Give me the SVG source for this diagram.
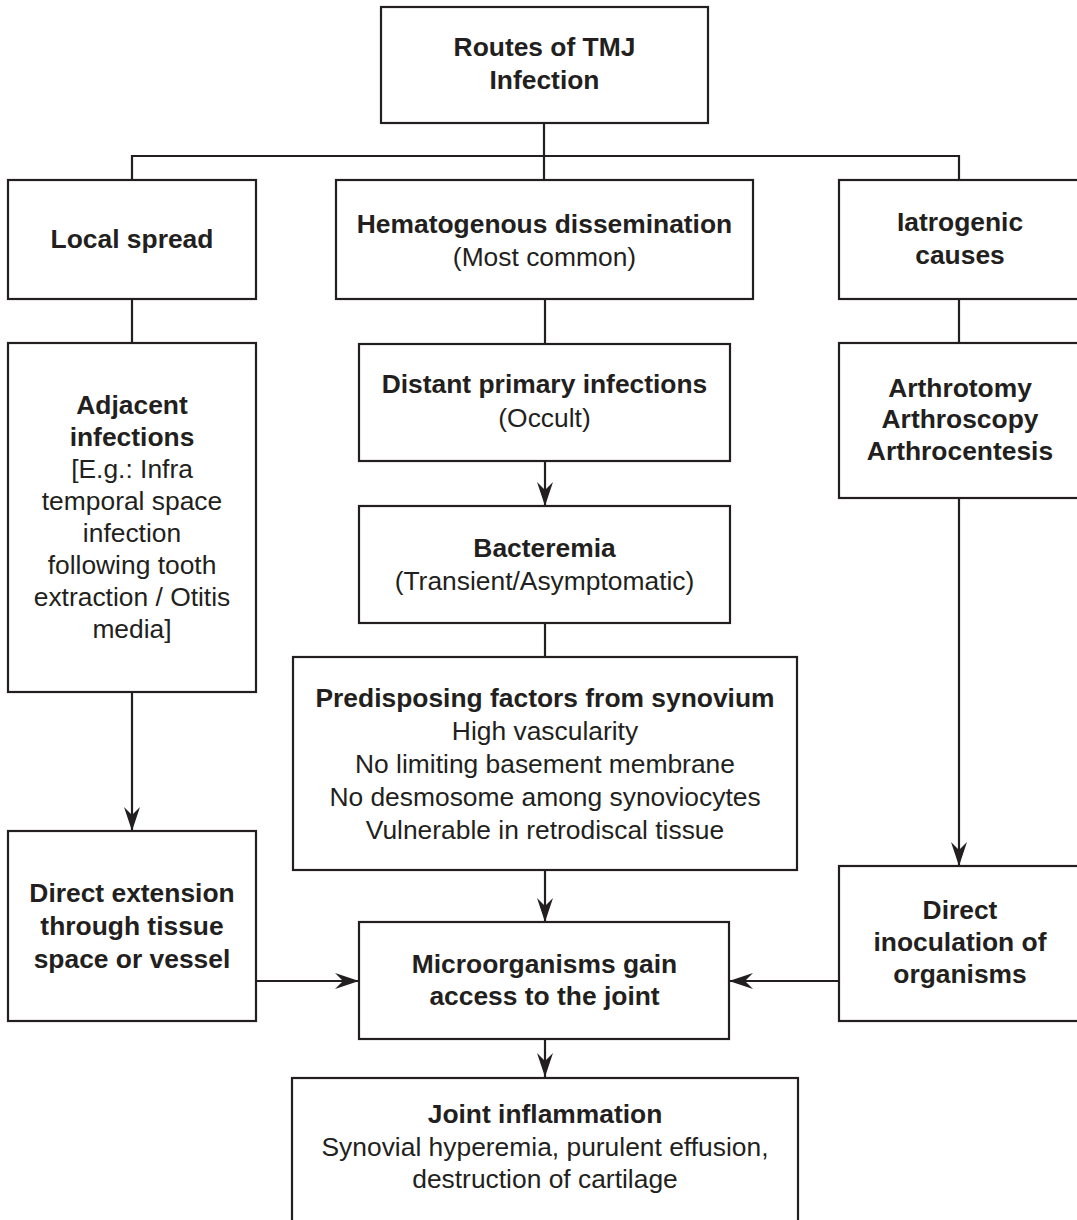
<svg xmlns="http://www.w3.org/2000/svg" width="1077" height="1220" viewBox="0 0 1077 1220">
<style>
.n rect{fill:#fff;stroke:#231f20;stroke-width:2.2}
text{font-family:"Liberation Sans",Arial,Helvetica,sans-serif;font-size:26.4px;fill:#231f20;text-anchor:middle}
.b{font-weight:bold}
.c{fill:none;stroke:#231f20;stroke-width:2.2}
</style>
<defs>
<marker id="ah" markerUnits="userSpaceOnUse" viewBox="0 0 24 16" markerWidth="24" markerHeight="16" refX="24" refY="8" orient="auto">
<path d="M0,0 L24,8 L0,16 L8,8 Z" fill="#231f20"/>
</marker>
</defs>
<rect x="0" y="0" width="1077" height="1220" fill="#fff"/>
<g id="connectors">
<path class="c" d="M544,123 V180"/>
<path class="c" d="M132,180 V156 H959 V180"/>
<path class="c" d="M132,299 V343"/>
<path class="c" d="M132,692 V831" marker-end="url(#ah)"/>
<path class="c" d="M545,299 V344"/>
<path class="c" d="M545,461 V506" marker-end="url(#ah)"/>
<path class="c" d="M545,623 V657"/>
<path class="c" d="M545,870 V922" marker-end="url(#ah)"/>
<path class="c" d="M545,1039 V1077" marker-end="url(#ah)"/>
<path class="c" d="M256,981 H359" marker-end="url(#ah)"/>
<path class="c" d="M839,981 H729" marker-end="url(#ah)"/>
<path class="c" d="M959,299 V343"/>
<path class="c" d="M959,498 V866" marker-end="url(#ah)"/>
</g>
<g id="title" class="n">
<rect x="381" y="7" width="327" height="116"/>
<text class="b" x="544.5" y="56">Routes of TMJ</text>
<text class="b" x="544.5" y="89">Infection</text>
</g>
<g id="local" class="n">
<rect x="8" y="180" width="248" height="119"/>
<text class="b" x="132" y="248">Local spread</text>
</g>
<g id="hemato" class="n">
<rect x="336" y="180" width="417" height="119"/>
<text class="b" x="544.5" y="233">Hematogenous dissemination</text>
<text x="544.5" y="266">(Most common)</text>
</g>
<g id="iatro" class="n">
<rect x="839" y="180" width="245" height="119"/>
<text class="b" x="960" y="231">Iatrogenic</text>
<text class="b" x="960" y="264">causes</text>
</g>
<g id="adjacent" class="n">
<rect x="8" y="343" width="248" height="349"/>
<text class="b" x="132" y="414">Adjacent</text>
<text class="b" x="132" y="446">infections</text>
<text x="132" y="478">[E.g.: Infra</text>
<text x="132" y="510">temporal space</text>
<text x="132" y="542">infection</text>
<text x="132" y="574">following tooth</text>
<text x="132" y="606">extraction / Otitis</text>
<text x="132" y="638">media]</text>
</g>
<g id="distant" class="n">
<rect x="359" y="344" width="371" height="117"/>
<text class="b" x="544.5" y="393">Distant primary infections</text>
<text x="544.5" y="427">(Occult)</text>
</g>
<g id="arthro" class="n">
<rect x="839" y="343" width="245" height="155"/>
<text class="b" x="960" y="397">Arthrotomy</text>
<text class="b" x="960" y="428">Arthroscopy</text>
<text class="b" x="960" y="460">Arthrocentesis</text>
</g>
<g id="bacteremia" class="n">
<rect x="359" y="506" width="371" height="117"/>
<text class="b" x="544.5" y="557">Bacteremia</text>
<text x="544.5" y="590">(Transient/Asymptomatic)</text>
</g>
<g id="predisposing" class="n">
<rect x="293" y="657" width="504" height="213"/>
<text class="b" x="545" y="707">Predisposing factors from synovium</text>
<text x="545" y="740">High vascularity</text>
<text x="545" y="773">No limiting basement membrane</text>
<text x="545" y="806">No desmosome among synoviocytes</text>
<text x="545" y="839">Vulnerable in retrodiscal tissue</text>
</g>
<g id="direct-ext" class="n">
<rect x="8" y="831" width="248" height="190"/>
<text class="b" x="132" y="902">Direct extension</text>
<text class="b" x="132" y="935">through tissue</text>
<text class="b" x="132" y="968">space or vessel</text>
</g>
<g id="direct-inoc" class="n">
<rect x="839" y="866" width="245" height="155"/>
<text class="b" x="960" y="919">Direct</text>
<text class="b" x="960" y="951">inoculation of</text>
<text class="b" x="960" y="983">organisms</text>
</g>
<g id="micro" class="n">
<rect x="359" y="922" width="370" height="117"/>
<text class="b" x="544.5" y="973">Microorganisms gain</text>
<text class="b" x="544.5" y="1005">access to the joint</text>
</g>
<g id="joint" class="n">
<rect x="292" y="1078" width="506" height="160"/>
<text class="b" x="545" y="1123">Joint inflammation</text>
<text x="545" y="1156">Synovial hyperemia, purulent effusion,</text>
<text x="545" y="1188">destruction of cartilage</text>
</g>
</svg>
